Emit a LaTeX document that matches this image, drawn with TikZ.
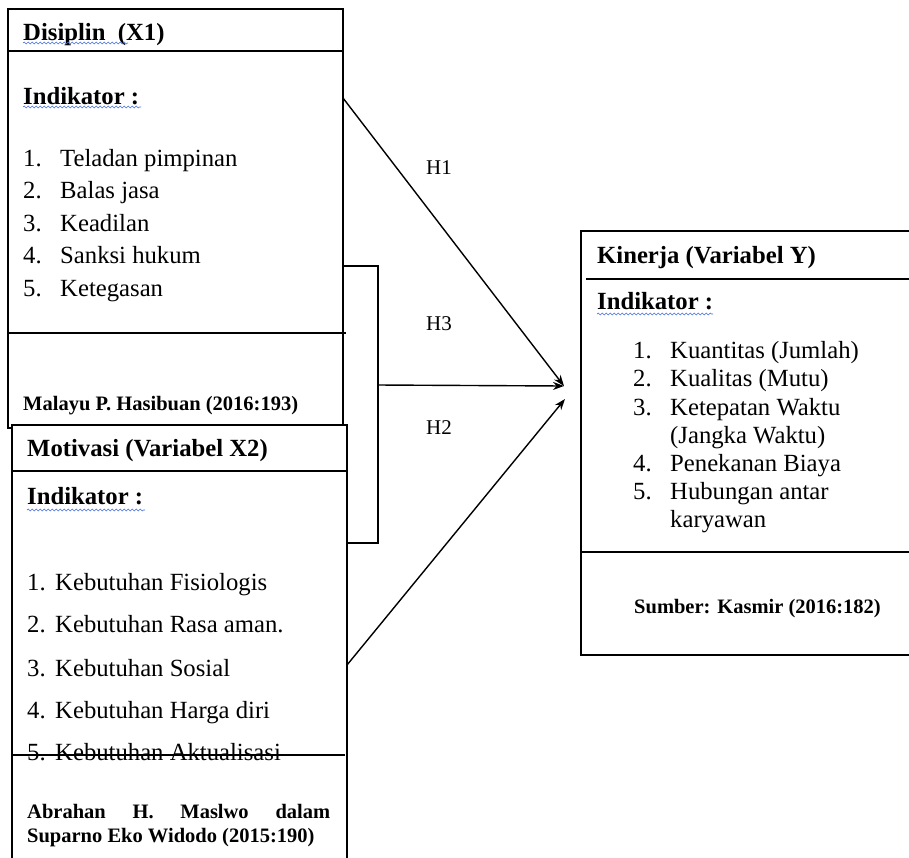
\documentclass[tikz,border=0pt]{standalone}
\usepackage{fontspec}
\setmainfont{Liberation Serif}
\usetikzlibrary{arrows.meta,decorations.pathmorphing}
\definecolor{spellblue}{RGB}{70,110,220}
\tikzset{
  boxline/.style={line width=1.6pt},
  plain/.style={font=\fontsize{24.7}{30}\selectfont, anchor=base west, inner sep=0pt},
  heading/.style={font=\bfseries\fontsize{24.7}{30}\selectfont, anchor=base west, inner sep=0pt},
  source/.style={font=\bfseries\fontsize{20.5}{24}\selectfont, anchor=base west, inner sep=0pt},
  hlabel/.style={font=\fontsize{21}{24}\selectfont, anchor=base west, inner sep=0pt},
  arr/.style={line width=1.4pt, -{Stealth[length=11pt,width=8pt]}},
  wavy/.style={draw=spellblue, line width=0.6pt, decorate,
    decoration={snake, amplitude=0.9pt, segment length=4pt}}
}
\begin{document}
\begin{tikzpicture}[x=1pt,y=-1pt]
    \useasboundingbox (0,0) rectangle (909,857);
    % Disiplin box
    \draw [boxline] (8,9) rectangle (343,428);
    \draw [boxline] (8,51) -- (343,51);
    \draw [boxline] (8,333) -- (346,333);
    \node (disiplintitle) at (23,40) [heading] {Disiplin\ \ (X1)};
    \node (disiplinind) at (23,104) [heading] {Indikator :};
    \draw [wavy] (23,43) -- (128,43);
    \draw [wavy] (23,107) -- (141,107);
    \foreach \n/\txt/\y in {1/Teladan pimpinan/166, 2/Balas jasa/198.5,
      3/Keadilan/231, 4/Sanksi hukum/263.5, 5/Ketegasan/296}
    {
      \node (disiplinnum\n) at (23,\y) [plain] {\n.};
      \node (disiplinitem\n) at (60,\y) [plain] {\txt};
    }
    \node (disiplinsrc) at (23,410) [source] {Malayu P. Hasibuan (2016:193)};
    % bracket for H3
    \coordinate (brtop) at (343,266);
    \coordinate (brbot) at (347,543);
    \coordinate (brright) at (378,266);
    \coordinate (h3from) at (378,385);
    \draw [boxline] (brtop) -- (brright) -- (brright |- brbot) -- (brbot);
    % Motivasi box
    \draw [boxline, fill=white] (12,425) rectangle (347,862);
    \draw [boxline] (12,471) -- (347,471);
    \draw [boxline] (12,755) -- (345,755);
    \node (motivasititle) at (27,456) [heading] {Motivasi (Variabel X2)};
    \node (motivasiind) at (27,504) [heading] {Indikator :};
    \draw [wavy] (27,510) -- (145,510);
    \foreach \n/\txt/\y in {1/Kebutuhan Fisiologis/590, 2/Kebutuhan Rasa aman./632,
      3/Kebutuhan Sosial/676, 4/Kebutuhan Harga diri/718, 5/Kebutuhan Aktualisasi/760}
    {
      \node (motivasinum\n) at (27,\y) [plain] {\n.};
      \node (motivasiitem\n) at (55,\y) [plain] {\txt};
    }
    \node (motivasisrc) at (27,818) [source] {\makebox[303pt][s]{Abrahan H. Maslwo dalam}};
    \node (motivasisrcb) at (27,842) [source] {Suparno Eko Widodo (2015:190)};
    % Kinerja box
    \draw [boxline] (581,231) rectangle (915,655);
    \draw [boxline] (586,279) -- (909,279);
    \draw [boxline] (581,552) -- (909,552);
    \node (kinerjatitle) at (597,263) [heading] {Kinerja (Variabel Y)};
    \node (kinerjaind) at (597,309) [heading] {Indikator :};
    \draw [wavy] (597,314) -- (713,314);
    \foreach \n/\txt/\y in {1/Kuantitas (Jumlah)/358, 2/Kualitas (Mutu)/386,
      3/Ketepatan Waktu/415, 4/Penekanan Biaya/471, 5/Hubungan antar/499}
    {
      \node (kinerjanum\n) at (633,\y) [plain] {\n.};
      \node (kinerjaitem\n) at (670,\y) [plain] {\txt};
    }
    \node (kinerjaitem3b) at (670,443) [plain] {(Jangka Waktu)};
    \node (kinerjaitem5b) at (670,527) [plain] {karyawan};
    \node (kinerjasrc) at (634,613) [source] {Sumber: Kasmir (2016:182)};
    % hypotheses
    \coordinate (h1from) at (343,98);
    \coordinate (h2from) at (347,665);
    \coordinate (tip) at (564,386);
    \coordinate (tipb) at (565,399);
    \draw [arr] (h1from) -- (tip);
    \draw [arr] (h3from) -- (tip);
    \draw [arr] (h2from) -- (tipb);
    \node (hone) at (426,174) [hlabel] {H1};
    \node (hthree) at (426,330) [hlabel] {H3};
    \node (htwo) at (426,434) [hlabel] {H2};
  \end{tikzpicture}
\end{document}
